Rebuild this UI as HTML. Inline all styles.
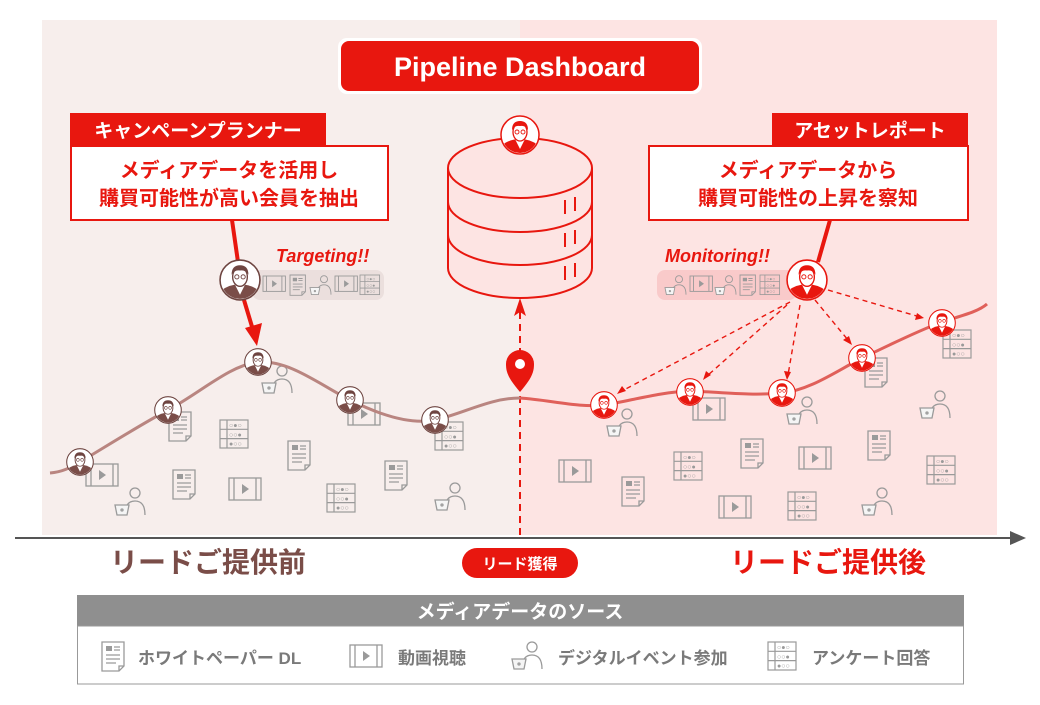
<!DOCTYPE html>
<html><head><meta charset="utf-8"><style>
html,body{margin:0;padding:0;background:#fff;}
svg{display:block;font-family:"Liberation Sans","Noto Sans CJK JP",sans-serif;}
</style></head><body>
<svg width="1040" height="705" viewBox="0 0 1040 705" xmlns="http://www.w3.org/2000/svg">
<defs>
<symbol id="avR" viewBox="-20 -20 40 40" overflow="visible">
<circle r="19" fill="#fff" stroke="#e8170f" stroke-width="1.5"/>
<clipPath id="cR"><circle r="18"/></clipPath>
<g clip-path="url(#cR)">
<path d="M-18 20 L-18 10 Q-10 4 0 4 Q10 4 18 10 L18 20Z" fill="#e8170f"/>
<path d="M-5 4 L0 14 L5 4Z" fill="#fff"/>
<ellipse cx="0" cy="-3" rx="7" ry="9" fill="#fff" stroke="#e8170f" stroke-width="1.3"/>
<path d="M-8 -5 Q-8 -14 0 -14 Q8 -14 8 -5 Q5 -10 0 -9 Q-5 -10 -8 -5Z" fill="#e8170f"/>
<circle cx="-3" cy="-3" r="2" fill="none" stroke="#e8170f" stroke-width="0.9"/>
<circle cx="3" cy="-3" r="2" fill="none" stroke="#e8170f" stroke-width="0.9"/>
</g></symbol>
<symbol id="avB" viewBox="-20 -20 40 40" overflow="visible">
<circle r="19" fill="#fff" stroke="#6e4541" stroke-width="1.5"/>
<clipPath id="cB"><circle r="18"/></clipPath>
<g clip-path="url(#cB)">
<path d="M-18 20 L-18 10 Q-10 4 0 4 Q10 4 18 10 L18 20Z" fill="#7a4d48"/>
<path d="M-5 4 L0 14 L5 4Z" fill="#fff"/>
<ellipse cx="0" cy="-3" rx="7" ry="9" fill="#fff" stroke="#6e4541" stroke-width="1.3"/>
<path d="M-8 -5 Q-8 -14 0 -14 Q8 -14 8 -5 Q5 -10 0 -9 Q-5 -10 -8 -5Z" fill="#6e4541"/>
<circle cx="-3" cy="-3" r="2" fill="none" stroke="#6e4541" stroke-width="0.9"/>
<circle cx="3" cy="-3" r="2" fill="none" stroke="#6e4541" stroke-width="0.9"/>
</g></symbol>
<g id="doc" fill="none" stroke="#9a9a9a" stroke-width="1.3"><path d="M0 0H22V24L17 29H0Z"/><path d="M17 29V24H22"/><rect x="4" y="4" width="6" height="5" fill="#9a9a9a" stroke="none"/><path d="M12 5H18M12 8H18M4 13H18M4 17H18M4 21H14"/></g>
<g id="vid" fill="none" stroke="#9a9a9a" stroke-width="1.3"><rect x="0" y="0" width="32" height="22"/><path d="M5 0V22M27 0V22"/><path d="M13 6L20 11L13 16Z" fill="#9a9a9a" stroke="none"/></g>
<g id="svy" fill="none" stroke="#9a9a9a" stroke-width="1.2"><rect x="0" y="0" width="28" height="28"/><path d="M0 9.3H28M0 18.6H28M7 0V28"/><text x="9" y="7.5" font-size="7" fill="#9a9a9a" stroke="none">○●○</text><text x="9" y="16.8" font-size="7" fill="#9a9a9a" stroke="none">○○●</text><text x="9" y="26" font-size="7" fill="#9a9a9a" stroke="none">●○○</text></g>
<g id="per" fill="none" stroke="#9a9a9a" stroke-width="1.3"><circle cx="20" cy="6" r="5"/><path d="M10 28 Q10 14 20 14 Q30 14 30 28"/><path d="M0 18H14L12 28H2Z" fill="#f5f5f5"/><circle cx="7" cy="23" r="1"/></g>
</defs>

<rect x="42" y="20" width="478" height="515" fill="#f7eeec"/>
<rect x="520" y="20" width="477" height="515" fill="#fde4e3"/>

<rect x="338" y="38" width="364" height="56" rx="9" fill="#fff"/>
<rect x="341" y="41" width="358" height="50" rx="8" fill="#e8170f"/>
<text x="520" y="76" text-anchor="middle" font-size="27" font-weight="bold" fill="#fff">Pipeline Dashboard</text>

<rect x="70" y="113" width="256" height="33" fill="#e8170f"/>
<text x="198" y="137" text-anchor="middle" font-size="19" font-weight="bold" fill="#fff">キャンペーンプランナー</text>
<rect x="71" y="146" width="317" height="74" fill="#fff" stroke="#e8170f" stroke-width="2"/>
<text x="229" y="177" text-anchor="middle" font-size="20" font-weight="bold" fill="#e8170f">メディアデータを活用し</text>
<text x="229" y="205" text-anchor="middle" font-size="20" font-weight="bold" fill="#e8170f">購買可能性が高い会員を抽出</text>

<rect x="772" y="113" width="196" height="33" fill="#e8170f"/>
<text x="870" y="137" text-anchor="middle" font-size="19" font-weight="bold" fill="#fff">アセットレポート</text>
<rect x="649" y="146" width="319" height="74" fill="#fff" stroke="#e8170f" stroke-width="2"/>
<text x="808" y="177" text-anchor="middle" font-size="20" font-weight="bold" fill="#e8170f">メディアデータから</text>
<text x="808" y="205" text-anchor="middle" font-size="20" font-weight="bold" fill="#e8170f">購買可能性の上昇を察知</text>

<rect x="252" y="270" width="132" height="30" rx="8" fill="#ebdfdd"/>
<text x="276" y="262" font-size="18" font-weight="bold" font-style="italic" fill="#e8170f">Targeting!!</text>
<g transform="translate(263,276) scale(0.7)"><use href="#vid"/></g>
<g transform="translate(290,275) scale(0.7)"><use href="#doc"/></g>
<g transform="translate(310,275) scale(0.7)"><use href="#per"/></g>
<g transform="translate(335,276) scale(0.7)"><use href="#vid"/></g>
<g transform="translate(360,275) scale(0.7)"><use href="#svy"/></g>
<line x1="232" y1="220" x2="238" y2="262" stroke="#e8170f" stroke-width="4"/>
<line x1="244" y1="300" x2="253" y2="330" stroke="#e8170f" stroke-width="4"/>
<path d="M245 328 L262 323 L257 346Z" fill="#e8170f"/>
<use href="#avB" x="219" y="259" width="42" height="42"/>

<rect x="657" y="270" width="140" height="30" rx="8" fill="#f9caca"/>
<text x="665" y="262" font-size="18" font-weight="bold" font-style="italic" fill="#e8170f">Monitoring!!</text>
<g transform="translate(665,275) scale(0.7)"><use href="#per"/></g>
<g transform="translate(690,276) scale(0.7)"><use href="#vid"/></g>
<g transform="translate(715,275) scale(0.7)"><use href="#per"/></g>
<g transform="translate(740,275) scale(0.7)"><use href="#doc"/></g>
<g transform="translate(760,275) scale(0.7)"><use href="#svy"/></g>
<line x1="830" y1="220" x2="818" y2="262" stroke="#e8170f" stroke-width="4"/>

<g stroke="#e8170f" stroke-width="1.4" stroke-dasharray="5,4" fill="none">
<line x1="790" y1="302" x2="620" y2="392"/>
<line x1="787" y1="305" x2="707" y2="376"/>
<line x1="800" y1="305" x2="788" y2="375"/>
<line x1="815" y1="300" x2="848" y2="340"/>
<line x1="828" y1="290" x2="920" y2="317"/>
</g>
<g fill="#e8170f">
<path d="M617 394 L622 386 L626 391Z"/>
<path d="M703 380 L706 371 L711 375Z"/>
<path d="M787 380 L784 371 L791 372Z"/>
<path d="M852 345 L843 340 L849 336Z"/>
<path d="M924 318 L915 320 L917 313Z"/>
</g>
<use href="#avR" x="786" y="259" width="42" height="42"/>

<g stroke="#e8170f" stroke-width="2" fill="#fde4e3">
<path d="M448 168 V268 A72 30 0 0 0 592 268 V168"/>
<ellipse cx="520" cy="168" rx="72" ry="30" fill="#fde4e3"/>
<path d="M448 202 A72 30 0 0 0 592 202" fill="none"/>
<path d="M448 235 A72 30 0 0 0 592 235" fill="none"/>
<path d="M565 200 V214 M575 197 V211 M565 233 V247 M575 230 V244 M565 266 V280 M575 263 V277" fill="none"/>
</g>
<use href="#avR" x="500" y="115" width="40" height="40"/>

<line x1="520" y1="312" x2="520" y2="535" stroke="#e8170f" stroke-width="2" stroke-dasharray="7,5"/>
<path d="M520 298 L514 316 L520 312 L526 316Z" fill="#e8170f"/>
<path d="M520 392 C508 378 506 372 506 364 A14 14 0 0 1 534 364 C534 372 532 378 520 392Z" fill="#e8170f"/>
<circle cx="520" cy="364" r="5" fill="#fff"/>

<use href="#vid" x="86" y="464"/>
<use href="#per" x="115" y="487"/>
<use href="#doc" x="169" y="412"/>
<use href="#svy" x="220" y="420"/>
<use href="#doc" x="173" y="470"/>
<use href="#vid" x="229" y="478"/>
<use href="#per" x="262" y="365"/>
<use href="#doc" x="288" y="441"/>
<use href="#vid" x="348" y="403"/>
<use href="#svy" x="327" y="484"/>
<use href="#doc" x="385" y="461"/>
<use href="#svy" x="435" y="422"/>
<use href="#per" x="435" y="482"/>
<use href="#per" x="607" y="408"/>
<use href="#vid" x="693" y="398"/>
<use href="#per" x="787" y="396"/>
<use href="#doc" x="865" y="358"/>
<use href="#svy" x="943" y="330"/>
<use href="#per" x="920" y="390"/>
<use href="#vid" x="559" y="460"/>
<use href="#doc" x="622" y="477"/>
<use href="#svy" x="674" y="452"/>
<use href="#doc" x="741" y="439"/>
<use href="#vid" x="799" y="447"/>
<use href="#doc" x="868" y="431"/>
<use href="#svy" x="927" y="456"/>
<use href="#vid" x="719" y="496"/>
<use href="#svy" x="788" y="492"/>
<use href="#per" x="862" y="487"/>

<path d="M50 473 C62 472 70 468 80 462 C110 444 140 425 168 410 C200 393 230 365 258 362 C290 360 320 385 350 400 C380 415 410 425 435 420 C465 413 490 398 520 398" fill="none" stroke="#b98580" stroke-width="3"/>
<path d="M520 398 C550 400 580 408 604 405 C630 401 660 392 690 391 C720 392 750 396 782 393 C810 390 835 372 862 358 C890 345 915 332 942 322 C960 316 978 312 987 304" fill="none" stroke="#e0605a" stroke-width="3"/>

<use href="#avB" x="66" y="448" width="28" height="28"/>
<use href="#avB" x="154" y="396" width="28" height="28"/>
<use href="#avB" x="244" y="348" width="28" height="28"/>
<use href="#avB" x="336" y="386" width="28" height="28"/>
<use href="#avB" x="421" y="406" width="28" height="28"/>
<use href="#avR" x="590" y="391" width="28" height="28"/>
<use href="#avR" x="676" y="378" width="28" height="28"/>
<use href="#avR" x="768" y="379" width="28" height="28"/>
<use href="#avR" x="848" y="344" width="28" height="28"/>
<use href="#avR" x="928" y="309" width="28" height="28"/>

<line x1="15" y1="538" x2="1015" y2="538" stroke="#555" stroke-width="2"/>
<path d="M1026 538 L1010 531 L1010 545Z" fill="#555"/>

<text x="208" y="572" text-anchor="middle" font-size="28" font-weight="bold" fill="#7a4d48">リードご提供前</text>
<text x="828" y="572" text-anchor="middle" font-size="28" font-weight="bold" fill="#e8170f">リードご提供後</text>
<rect x="462" y="548" width="116" height="30" rx="15" fill="#e8170f"/>
<text x="520" y="569" text-anchor="middle" font-size="15" font-weight="bold" fill="#fff">リード獲得</text>

<rect x="77" y="595" width="887" height="31" fill="#8f8f8f"/>
<text x="520" y="618" text-anchor="middle" font-size="19" font-weight="bold" fill="#fff">メディアデータのソース</text>
<rect x="77.5" y="626" width="886" height="58" fill="#fff" stroke="#999" stroke-width="1"/>
<use href="#doc" x="102" y="642"/>
<text x="138" y="664" font-size="17" font-weight="bold" fill="#7a7a7a">ホワイトペーパー DL</text>
<use href="#vid" x="350" y="645"/>
<text x="398" y="664" font-size="17" font-weight="bold" fill="#7a7a7a">動画視聴</text>
<use href="#per" x="512" y="641"/>
<text x="558" y="664" font-size="17" font-weight="bold" fill="#7a7a7a">デジタルイベント参加</text>
<use href="#svy" x="768" y="642"/>
<text x="812" y="664" font-size="17" font-weight="bold" fill="#7a7a7a">アンケート回答</text>
</svg>
</body></html>
